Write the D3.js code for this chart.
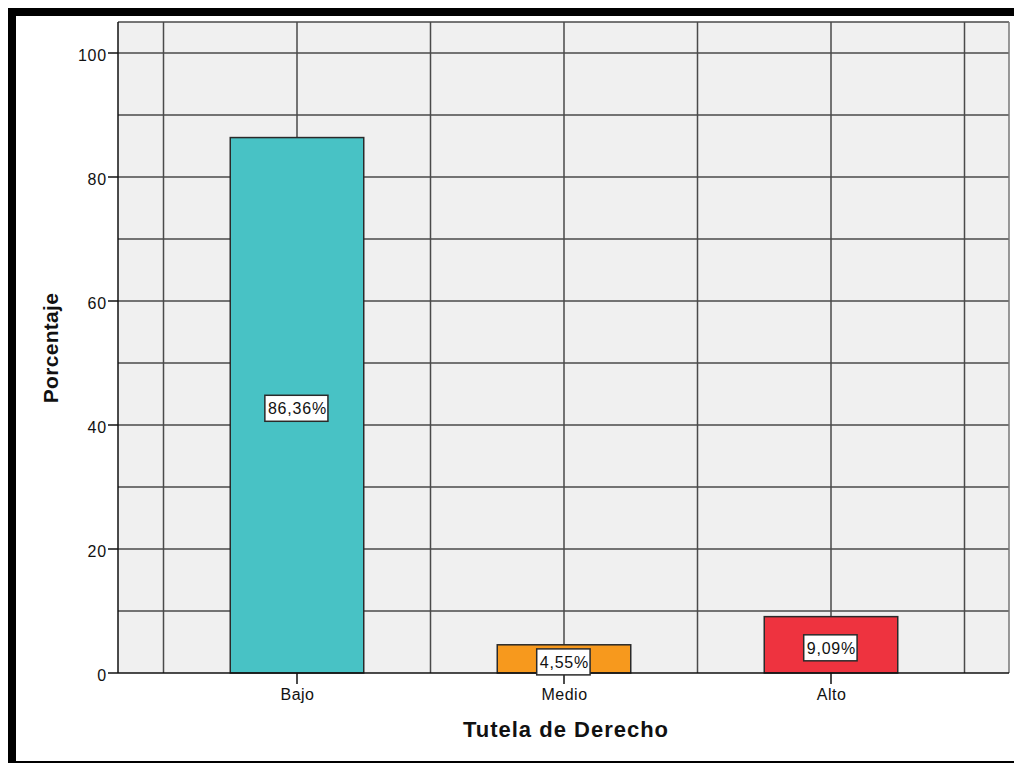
<!DOCTYPE html>
<html>
<head>
<meta charset="utf-8">
<script src="https://cdn.jsdelivr.net/npm/d3@7"></script>
<style>
  html, body { margin: 0; padding: 0; background: #ffffff; overflow: hidden; }
  svg { display: block; }
  text { font-family: "Liberation Sans", Arial, sans-serif; fill: #111; }
</style>
</head>
<body>
<svg id="chart" width="1014" height="763"></svg>
<script>
const categories = ["Bajo", "Medio", "Alto"];
const values = [86.36, 4.55, 9.09];
const valueLabels = ["86,36%", "4,55%", "9,09%"];
const barColors = ["#48C2C5", "#F7991D", "#EE333F"];
const yTicks = [0, 20, 40, 60, 80, 100];
const yGrid = [10, 20, 30, 40, 50, 60, 70, 80, 90, 100];
const xTitle = "Tutela de Derecho";
const yTitle = "Porcentaje";

const svg = d3.select("#chart");
const plot = { left: 118, right: 1009, top: 22, bottom: 673 };

// outer frame (right edge falls outside the picture)
svg.append("rect").attr("x", 12).attr("y", 12).attr("width", 1100).attr("height", 753)
  .attr("fill", "#ffffff").attr("stroke", "#000").attr("stroke-width", 8);

const y = d3.scaleLinear().domain([0, 105]).range([plot.bottom, plot.top]);
const x = d3.scaleBand().domain(categories).range([163.5, 964.5]).padding(0);
const step = x.step();

// plot background
svg.append("rect").attr("x", plot.left).attr("y", plot.top)
  .attr("width", plot.right - plot.left).attr("height", plot.bottom - plot.top)
  .attr("fill", "#F0F0F0");

const gridColor = "#4a4a4a";
svg.append("g").selectAll("line").data(yGrid).join("line")
  .attr("x1", plot.left).attr("x2", plot.right)
  .attr("y1", d => y(d)).attr("y2", d => y(d))
  .attr("stroke", gridColor).attr("stroke-width", 1.5);

const vLines = [];
categories.forEach(c => { vLines.push(x(c)); vLines.push(x(c) + step / 2); });
vLines.push(x(categories[categories.length - 1]) + step);
svg.append("g").selectAll("line").data(vLines).join("line")
  .attr("x1", d => d).attr("x2", d => d)
  .attr("y1", plot.top).attr("y2", plot.bottom)
  .attr("stroke", gridColor).attr("stroke-width", 1.5);

svg.append("line").attr("x1", plot.left).attr("x2", plot.right).attr("y1", plot.top).attr("y2", plot.top)
  .attr("stroke", gridColor).attr("stroke-width", 1.5);
svg.append("line").attr("x1", plot.right).attr("x2", plot.right).attr("y1", plot.top).attr("y2", plot.bottom)
  .attr("stroke", "#777").attr("stroke-width", 1.5);

// bars
const data = categories.map((c, i) => ({ c, v: values[i], label: valueLabels[i], color: barColors[i] }));
svg.append("g").selectAll("rect").data(data).join("rect")
  .attr("x", d => x(d.c) + step / 4)
  .attr("width", step / 2)
  .attr("y", d => y(d.v))
  .attr("height", d => y(0) - y(d.v))
  .attr("fill", d => d.color)
  .attr("stroke", "#2a2a2a").attr("stroke-width", 1.5);

// axis lines
svg.append("line").attr("x1", plot.left).attr("x2", plot.left).attr("y1", plot.top).attr("y2", plot.bottom)
  .attr("stroke", "#111").attr("stroke-width", 1.5);
svg.append("line").attr("x1", plot.left).attr("x2", plot.right).attr("y1", plot.bottom).attr("y2", plot.bottom)
  .attr("stroke", "#111").attr("stroke-width", 1.5);

// y ticks
const yt = svg.append("g").selectAll("g").data(yTicks).join("g");
yt.append("line").attr("x1", plot.left - 10).attr("x2", plot.left)
  .attr("y1", d => y(d)).attr("y2", d => y(d)).attr("stroke", "#111").attr("stroke-width", 1.5);
yt.append("text").attr("x", plot.left - 11).attr("y", d => y(d) + 7.5)
  .attr("text-anchor", "end").style("font-size", "16px").style("letter-spacing", "0.8px")
  .text(d => d);

// x ticks
const xt = svg.append("g").selectAll("g").data(categories).join("g");
xt.append("line").attr("x1", d => x(d) + step / 2).attr("x2", d => x(d) + step / 2)
  .attr("y1", plot.bottom).attr("y2", plot.bottom + 11).attr("stroke", "#111").attr("stroke-width", 1.5);
xt.append("text").attr("x", d => x(d) + step / 2 + 0.5).attr("y", 700)
  .attr("text-anchor", "middle").style("font-size", "16px").style("letter-spacing", "0.5px")
  .text(d => d);

// value labels
const lg = svg.append("g").selectAll("g").data(data).join("g")
  .attr("transform", d => `translate(${x(d.c) + step / 2},${(y(d.v) + y(0)) / 2 + 3})`);
lg.each(function (d) {
  const g = d3.select(this);
  const t = g.append("text").attr("x", 0.4).attr("y", 6)
    .attr("text-anchor", "middle").style("font-size", "16px").style("letter-spacing", "0.8px")
    .text(d.label);
  const bb = t.node().getBBox();
  g.insert("rect", "text").attr("x", bb.x - 3).attr("y", -13)
    .attr("width", bb.width + 4).attr("height", 26)
    .attr("fill", "#fff").attr("stroke", "#2a2a2a").attr("stroke-width", 1.5);
});

// axis titles
svg.append("text").attr("x", 566).attr("y", 737)
  .attr("text-anchor", "middle").style("font-size", "22px").style("font-weight", "bold")
  .style("letter-spacing", "1px").text(xTitle);
svg.append("text").attr("transform", "translate(58,348) rotate(-90)")
  .attr("text-anchor", "middle").style("font-size", "21px").style("font-weight", "bold")
  .style("letter-spacing", "0.3px").text(yTitle);
</script>
</body>
</html>
